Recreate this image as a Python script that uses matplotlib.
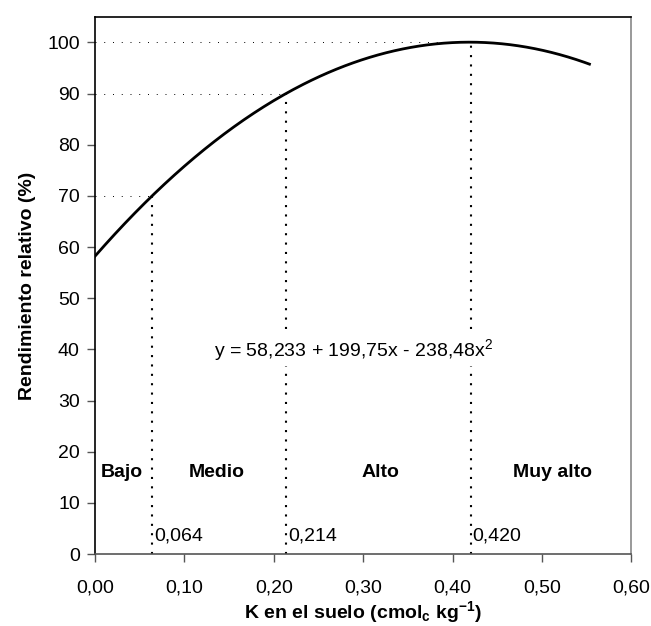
import numpy as np
import matplotlib
matplotlib.use("Agg")
import matplotlib.pyplot as plt

plt.rcParams["font.family"] = ["Liberation Sans", "DejaVu Sans"]
plt.rcParams["mathtext.fontset"] = "custom"
plt.rcParams["mathtext.rm"] = "Liberation Sans"
plt.rcParams["mathtext.it"] = "Liberation Sans"
plt.rcParams["mathtext.bf"] = "Liberation Sans:bold"

# fitted quadratic: y = b0 + b1*x + b2*x^2
coefs = [58.233, 199.75, -238.48]
x_max = 0.553

# critical K levels and the relative yield they correspond to
thresholds = [0.064, 0.214, 0.420]
threshold_labels = ["0,064", "0,214", "0,420"]
yield_levels = [70, 90, 100]

classes = ["Bajo", "Medio", "Alto", "Muy alto"]
class_x = [0.030, 0.136, 0.319, 0.512]

xticks = [0.0, 0.1, 0.2, 0.3, 0.4, 0.5, 0.6]
xtick_labels = ["0,00", "0,10", "0,20", "0,30", "0,40", "0,50", "0,60"]
yticks = list(range(0, 101, 10))

fs = 14

fig = plt.figure(figsize=(6.51, 6.26), dpi=100)
ax = fig.add_axes([0.146, 0.115, 0.824, 0.858])

poly = coefs[::-1]
xs = np.linspace(0, x_max, 300)
ax.plot(xs, np.polyval(poly, xs), color="black", lw=2.0, zorder=3)

for xt, yl, lab in zip(thresholds, yield_levels, threshold_labels):
    yc = np.polyval(poly, xt)
    ax.plot([xt, xt], [0, yc], color="black", lw=1.5, linestyle=(0, (1, 3.5)))
    ax.plot([0, xt], [yl, yl], color="black", lw=0.7, linestyle=(0, (1, 8)))
    ax.text(xt + 0.002, 3.6, lab, fontsize=fs, va="center", ha="left")

for name, cx in zip(classes, class_x):
    ax.text(cx, 16, name, fontsize=fs, fontweight="bold", ha="center", va="center")

ax.text(0.289, 39.8, "y = 58,233 + 199,75x - 238,48x$^2$", fontsize=fs,
        ha="center", va="center", zorder=4,
        bbox=dict(facecolor="white", edgecolor="none", pad=2))

ax.set_xlim(0, 0.6)
ax.set_ylim(0, 105)
ax.set_xticks(xticks)
ax.set_xticklabels(xtick_labels)
ax.set_yticks(yticks)
ax.tick_params(axis="both", direction="out", length=6, width=1, labelsize=fs,
               color="#555555")
ax.tick_params(axis="x", pad=12)
ax.tick_params(axis="y", pad=5)

ax.spines["left"].set_color("black")
ax.spines["top"].set_color("black")
ax.spines["bottom"].set_color("#555555")
ax.spines["right"].set_color("#888888")
for s in ax.spines.values():
    s.set_linewidth(1.2)

ax.set_xlabel(r"K en el suelo (cmol$_\mathbf{c}$ kg$^{\mathbf{-1}}$)",
              fontsize=fs, fontweight="bold", labelpad=2)
ax.set_ylabel("Rendimiento relativo (%)", fontsize=fs, fontweight="bold",
              labelpad=8)

fig.savefig("out.png", dpi=100)
